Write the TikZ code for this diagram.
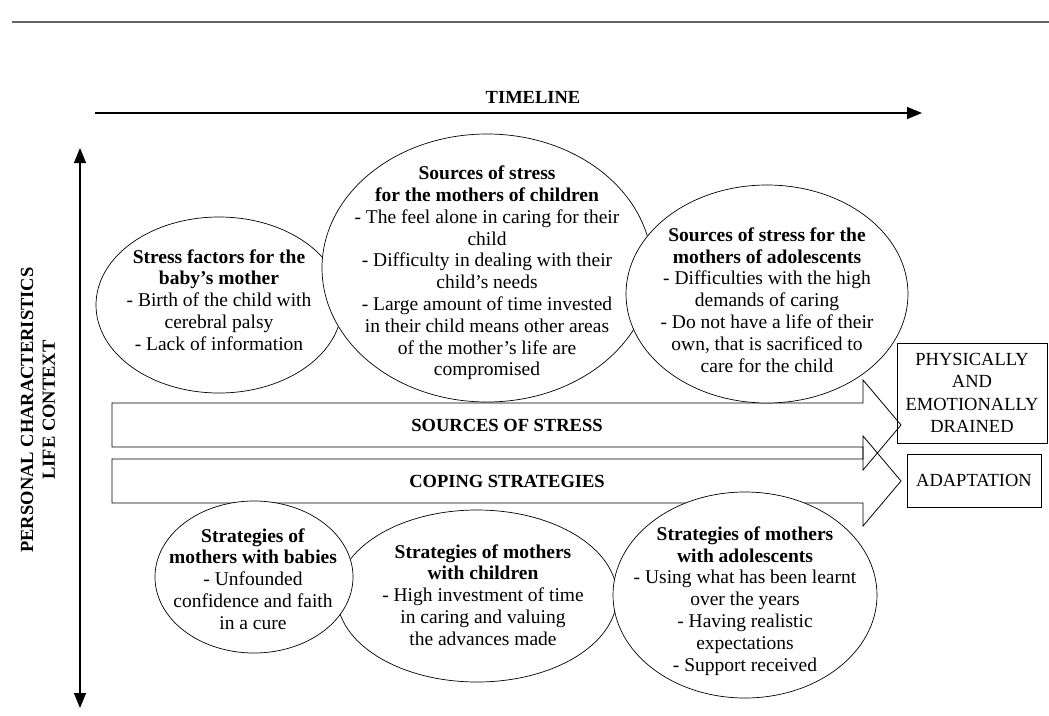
\documentclass[tikz,border=0pt]{standalone}
\usepackage{fontspec}
\setmainfont{Liberation Serif}
\usetikzlibrary{arrows.meta,shapes.geometric}
\begin{document}
\begin{tikzpicture}[x=1pt,y=-1pt,
  bubble/.style={ellipse, draw, fill=white, line width=0.7pt, inner sep=0pt},
  txt/.style={align=center, font=\fontsize{19.5}{21.8}\selectfont, inner sep=0pt},
  caplabel/.style={font=\bfseries\fontsize{18.5}{21.8}\selectfont, inner sep=0pt},
  blockarrow/.style={draw, line width=0.8pt},
  sidebox/.style={draw, line width=0.8pt, inner sep=0pt, align=center, font=\fontsize{18.5}{22.3}\selectfont},
  axis/.style={line width=1.3pt, -{Triangle[length=15pt,width=12pt]}},
  axisboth/.style={line width=1.3pt, {Triangle[length=15pt,width=12pt]}-{Triangle[length=15pt,width=12pt]}}
]
\useasboundingbox (0,0) rectangle (1049,715);

% top rule
\draw[gray!80!black, line width=1.2pt] (12,22) -- (1049,22);

% timeline
\node[caplabel] (tl) at (533,97) {TIMELINE};
\coordinate (t0) at (95,113);
\coordinate (t1) at (922,113);
\draw[axis] (t0) -- (t1);

% vertical axis
\coordinate (v0) at (80,148);
\coordinate (v1) at (80,708);
\draw[axisboth] (v0) -- (v1);
\node[caplabel, rotate=90, align=center] (pc) at (38,410) {PERSONAL CHARACTERISTICS\\LIFE CONTEXT};

% block arrows
\draw[blockarrow] (112,403) -- (863,403) -- (863,380) -- (901,425) -- (863,470) -- (863,447) -- (112,447) -- cycle;
\node[caplabel] (src) at (507,425) {SOURCES OF STRESS};
\draw[blockarrow] (112,459) -- (863,459) -- (863,436) -- (901,481) -- (863,526) -- (863,503) -- (112,503) -- cycle;
\node[caplabel] (cop) at (507,481) {COPING STRATEGIES};

% outcome boxes
\node[sidebox, minimum width=150, minimum height=100] (drained) at (972,393) {PHYSICALLY\\AND\\EMOTIONALLY\\DRAINED};
\node[sidebox, minimum width=134, minimum height=53] (adapt) at (974,480.5) {ADAPTATION};

% top ellipses
\node[bubble, minimum width=246, minimum height=176] (e1) at (219,305) {};
\node[txt] (e1t) at (219,300) {\textbf{Stress factors for the}\\\textbf{baby’s mother}\\- Birth of the child with\\cerebral palsy\\- Lack of information};

\node[bubble, minimum width=330, minimum height=268] (e2) at (487,268) {};
\node[txt] (e2t) at (487,273) {\textbf{Sources of stress}\\\textbf{for the mothers of children}\\- The feel alone in caring for their\\child\\- Difficulty in dealing with their\\child’s needs\\- Large amount of time invested\\in their child means other areas\\of the mother’s life are\\compromised};

\node[bubble, minimum width=282, minimum height=218] (e3) at (767,294) {};
\node[txt] (e3t) at (767,300) {\textbf{Sources of stress for the}\\\textbf{mothers of adolescents}\\- Difficulties with the high\\demands of caring\\- Do not have a life of their\\own, that is sacrificed to\\care for the child};

% bottom ellipses
\node[bubble, minimum width=280, minimum height=172] (e5) at (477,596) {};
\node[txt] (e5t) at (483,595) {\textbf{Strategies of mothers}\\\textbf{with children}\\- High investment of time\\in caring and valuing\\the advances made};

\node[bubble, minimum width=198, minimum height=152] (e4) at (254,577) {};
\node[txt] (e4t) at (253,579) {\textbf{Strategies of}\\\textbf{mothers with babies}\\- Unfounded\\confidence and faith\\in a cure};

\node[bubble, minimum width=264, minimum height=206] (e6) at (745,595) {};
\node[txt] (e6t) at (745,601) {\textbf{Strategies of mothers}\\\textbf{with adolescents}\\- Using what has been learnt\\over the years\\- Having realistic\\expectations\\- Support received};
\end{tikzpicture}
\end{document}
